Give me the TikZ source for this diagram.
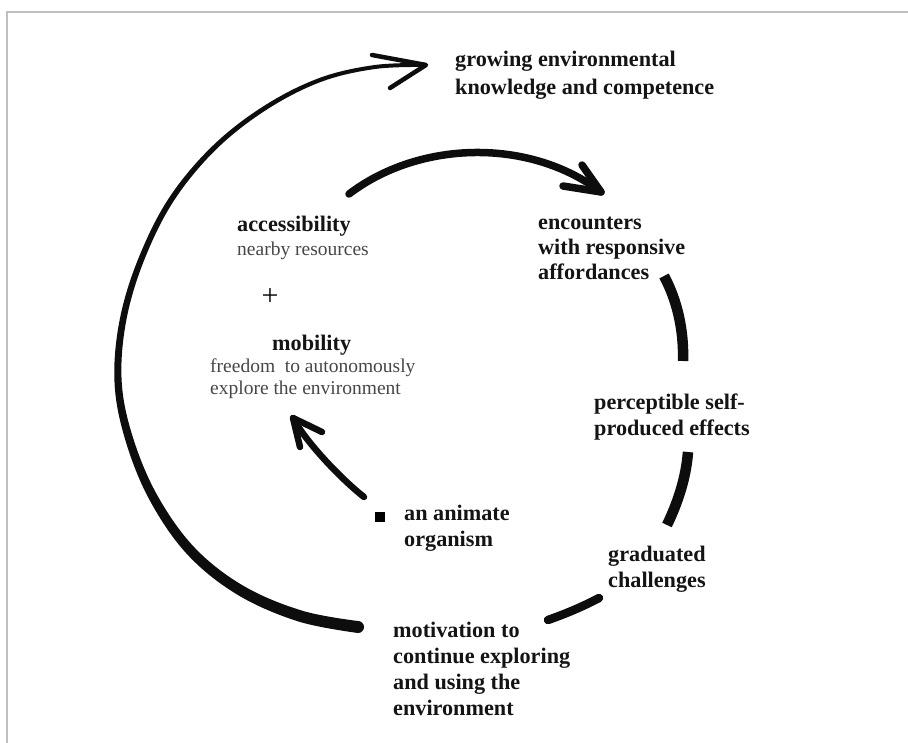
\documentclass[tikz,border=0pt]{standalone}
\usepackage{fontspec}
\setmainfont{Liberation Serif}
\usetikzlibrary{calc}
\begin{document}
\begin{tikzpicture}[x=1pt,y=-1pt,
  boldlbl/.style={anchor=base west, inner sep=0pt, align=left, font=\fontsize{22.2}{26}\selectfont\bfseries, text=black!92},
  reglbl/.style={anchor=base west, inner sep=0pt, align=left, font=\fontsize{19.5}{22}\selectfont, text=black!72},
  brush/.style={line width=#1, line cap=round, line join=round, draw=black!95},
  frameline/.style={draw=black!25, line width=2pt}
]
\useasboundingbox (0,0) rectangle (908,743);
\draw[frameline] (7,743) -- (7,12) -- (908,12);

% labels (anchor = baseline of the last line)
\node[boldlbl, font=\fontsize{22.2}{28.5}\selectfont\bfseries] (grow) at (455,95) {growing environmental\\knowledge and competence};
\node[boldlbl] (acc) at (237,232) {accessibility};
\node[reglbl] (accsub) at (237,256) {nearby resources};
\node[reglbl, anchor=center, font=\fontsize{30}{30}\selectfont, text=black!95] (plus) at (270,297) {+};
\node[boldlbl] (mob) at (272,351) {mobility};
\node[reglbl] (mobsub) at (210,395) {freedom\ \ to autonomously\\explore the environment};
\node[boldlbl, font=\fontsize{22.2}{25}\selectfont\bfseries] (enc) at (538,280) {encounters\\with responsive\\affordances};
\node[boldlbl, font=\fontsize{22.2}{25}\selectfont\bfseries] (perc) at (594,435) {perceptible self-\\produced effects};
\node[boldlbl] (anim) at (404,546) {an animate\\organism};
\node[boldlbl] (grad) at (608,587) {graduated\\challenges};
\node[boldlbl] (motiv) at (393,715) {motivation to\\continue exploring\\and using the\\environment};

% organism marker
\node[fill=black, minimum size=10pt, inner sep=0pt] (org) at (380,517) {};

% big outer arc (tapered brush stroke)
\coordinate (C) at (430,360);
\coordinate (g1) at (358,627);
\coordinate (g2) at (300,616);
\coordinate (g3) at (240,590);
\coordinate (g4) at (190,550);
\coordinate (g5) at (152,495);
\coordinate (g6) at (128,435);
\coordinate (g7) at (118,380);
\coordinate (g8) at (123,320);
\coordinate (g9) at (141,260);
\coordinate (g10) at (171,200);
\coordinate (g11) at (214,148);
\coordinate (g12) at (265,108);
\coordinate (g13) at (320,80);
\coordinate (g14) at (375,67);
\coordinate (g15) at (426,65);
\fill[black!95] plot[smooth, tension=0.6] coordinates {
  ($(g1)!-6pt!(C)$) ($(g2)!-5.8pt!(C)$) ($(g3)!-5.4pt!(C)$) ($(g4)!-5pt!(C)$)
  ($(g5)!-4.5pt!(C)$) ($(g6)!-4pt!(C)$) ($(g7)!-3.6pt!(C)$) ($(g8)!-3.3pt!(C)$)
  ($(g9)!-3pt!(C)$) ($(g10)!-2.8pt!(C)$) ($(g11)!-2.5pt!(C)$) ($(g12)!-2.3pt!(C)$)
  ($(g13)!-2.1pt!(C)$) ($(g14)!-2pt!(C)$) ($(g15)!-2pt!(C)$)}
  -- plot[smooth, tension=0.6] coordinates {
  ($(g15)!2pt!(C)$) ($(g14)!2pt!(C)$) ($(g13)!2.1pt!(C)$) ($(g12)!2.3pt!(C)$)
  ($(g11)!2.5pt!(C)$) ($(g10)!2.8pt!(C)$) ($(g9)!3pt!(C)$) ($(g8)!3.3pt!(C)$)
  ($(g7)!3.6pt!(C)$) ($(g6)!4pt!(C)$) ($(g5)!4.5pt!(C)$) ($(g4)!5pt!(C)$)
  ($(g3)!5.4pt!(C)$) ($(g2)!5.8pt!(C)$) ($(g1)!6pt!(C)$)} -- cycle;
\fill[black!95] (g1) circle (6pt);
\coordinate (gb1) at (372,55);
\coordinate (gb2) at (390,88);
\draw[brush=4.5pt] (gb1) -- (g15) -- (gb2);

% top inner arc: accessibility -> encounters
\coordinate (a0) at (349,194);
\coordinate (a1) at (601,192);
\draw[brush=7.5pt] (a0) .. controls (420,140) and (530,138) .. (a1);
\coordinate (ab1) at (582,165);
\coordinate (ab2) at (563,186);
\draw[brush=7.5pt] (ab1) -- (a1) -- (ab2);

% right side brush segments
\coordinate (r1s) at (664,276);
\coordinate (r1e) at (683,361);
\draw[line width=10.5pt, draw=black!95] (r1s) .. controls (677,300) and (684,330) .. (r1e);
\coordinate (r2s) at (688,452);
\coordinate (r2e) at (667,525);
\draw[line width=10.5pt, draw=black!95] (r2s) .. controls (686,478) and (678,502) .. (r2e);
\coordinate (r3s) at (599,598);
\coordinate (r3e) at (548,620);
\draw[line width=8.5pt, draw=black!95, line cap=round] (r3s) .. controls (582,607) and (565,614) .. (r3e);

% small arrow: organism -> mobility
\coordinate (s0) at (364,497);
\coordinate (s1) at (293,418);
\draw[brush=6.5pt] (s0) .. controls (340,478) and (306,442) .. (s1);
\coordinate (sb1) at (300,447);
\coordinate (sb2) at (322,432);
\draw[brush=6.5pt] (sb1) -- (s1) -- (sb2);
\end{tikzpicture}
\end{document}
